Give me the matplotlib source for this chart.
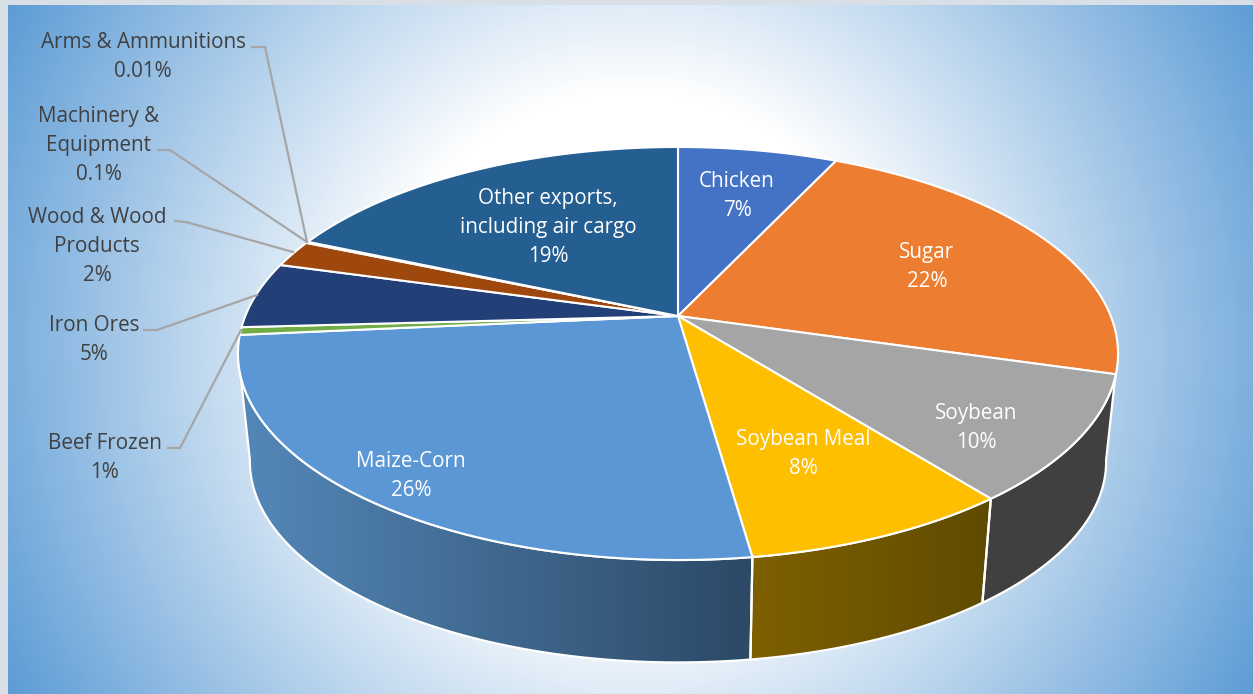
import numpy as np
import matplotlib
matplotlib.use('Agg')
import matplotlib.pyplot as plt
from matplotlib.patches import Polygon, Rectangle
from matplotlib.colors import to_rgb

# shares, clockwise from 12 o'clock
categories = ['Chicken', 'Sugar', 'Soybean', 'Soybean Meal', 'Maize-Corn', 'Beef Frozen',
              'Iron Ores', 'Wood & Wood Products', 'Machinery & Equipment',
              'Arms & Ammunitions', 'Other exports']
shares = [7, 22.5, 9.9, 8.4, 25.8, 0.6, 5.2, 2.1, 0.1, 0.01, 18.5]
colors = ['#4472c4', '#ed7d31', '#a5a5a5', '#fdbf00', '#5b97d5', '#70ad47',
          '#223f77', '#9e480e', '#636363', '#997300', '#255e91']

# label text and where it sits (centre x, first line y)
labels = [('Chicken\n7%', 737, 179),
          ('Sugar\n22%', 927, 250),
          ('Soybean\n10%', 976, 411),
          ('Soybean Meal\n8%', 803, 437),
          ('Maize-Corn\n26%', 411, 459),
          ('Other exports,\nincluding air cargo\n19%', 548, 196),
          ('Arms & Ammunitions\n0.01%', 143, 40),
          ('Machinery &\nEquipment\n0.1%', 99, 114),
          ('Wood & Wood\nProducts\n2%', 97, 215),
          ('Iron Ores\n5%', 94, 323),
          ('Beef Frozen\n1%', 105, 441)]
white_labels = 6

leaders = [[(252, 47), (265, 47), (307, 242)],
           [(158, 150), (170, 150), (307, 242)],
           [(175, 221), (186, 222), (293, 252)],
           [(144, 330), (157, 330), (257, 295)],
           [(168, 448), (180, 448), (241, 330)]]

# perspective of the pie disc
CX, CY = 678, 316
A, B, K = 432.7, 199.7, 0.1816
SHRINK, DEPTH = 0.973, 109


def top_edge(theta):
    t = np.radians(theta)
    u, v = np.sin(t), np.cos(t)
    w = 1 + K * v
    return A * u / w, B * v / w


def ring(theta, bottom=False):
    dx, dy = top_edge(theta)
    if bottom:
        return np.column_stack([CX + SHRINK * dx, CY - SHRINK * dy + DEPTH])
    return np.column_stack([CX + dx, CY - dy])


def side_wall(ax, t1, t2, left, right):
    th = np.linspace(t1, t2, 150)
    pts = np.vstack([ring(th), ring(th[::-1], True)])
    poly = Polygon(pts, closed=True, facecolor='none', edgecolor='white', lw=1.6, zorder=3)
    ax.add_patch(poly)
    # gradient goes left to right on screen
    grad = np.linspace(to_rgb(left), to_rgb(right), 256)[None, :, :]
    im = ax.imshow(grad, extent=[pts[:, 0].min(), pts[:, 0].max(), pts[:, 1].max(), pts[:, 1].min()],
                   aspect='auto', zorder=2)
    im.set_clip_path(poly)


fig = plt.figure(figsize=(12.53, 6.94), dpi=100)
ax = fig.add_axes([0, 0, 1, 1])
plt.rcParams['font.family'] = ['Open Sans', 'DejaVu Sans']

# background: white disc in the middle fading out to the corners
yy, xx = np.mgrid[0:694, 0:1253]
d = np.sqrt((xx - 632.0) ** 2 + (yy - 347.0) ** 2)
t = np.clip((d - 255) / 461.0, 0, 1)[..., None]
bg = (1 - t) * np.array([1.0, 1.0, 1.0]) + t * np.array(to_rgb('#5b9bd5'))
ax.imshow(bg, extent=[0, 1253, 694, 0], aspect='auto', zorder=0)
ax.add_patch(Rectangle((0, 0), 8, 694, facecolor='#d8dfe7', edgecolor='none', zorder=1))
ax.add_patch(Rectangle((0, 0), 1253, 5, facecolor='#d8dfe7', edgecolor='none', zorder=1))

bounds = np.concatenate([[0], np.cumsum(shares)]) / np.sum(shares) * 360

# walls: only the three front slices show
side_wall(ax, 100, bounds[3], '#404040', '#404040')
side_wall(ax, bounds[3], bounds[4], '#7f6000', '#5f4b00')
side_wall(ax, bounds[4], 260, '#5488b9', '#2c4966')

# top disc
for i, c in enumerate(colors):
    th = np.linspace(bounds[i], bounds[i + 1], max(int(shares[i] * 4), 2))
    pts = np.vstack([[CX, CY], ring(th)])
    ax.add_patch(Polygon(pts, closed=True, facecolor=c, edgecolor='white', lw=1.5,
                         joinstyle='round', zorder=4))

for line in leaders:
    xs, ys = zip(*line)
    ax.plot(xs, ys, color='#a6a6a6', lw=1.6, zorder=5, solid_joinstyle='miter')

for i, (txt, x, y) in enumerate(labels):
    col = 'white' if i < white_labels else '#404040'
    for j, part in enumerate(txt.split('\n')):
        ax.text(x, y + 2 + j * 29, part, color=col, fontsize=14.9, ha='center', va='center', zorder=6)

ax.set_xlim(0, 1253)
ax.set_ylim(694, 0)
ax.axis('off')
fig.savefig('out.png', dpi=100)
